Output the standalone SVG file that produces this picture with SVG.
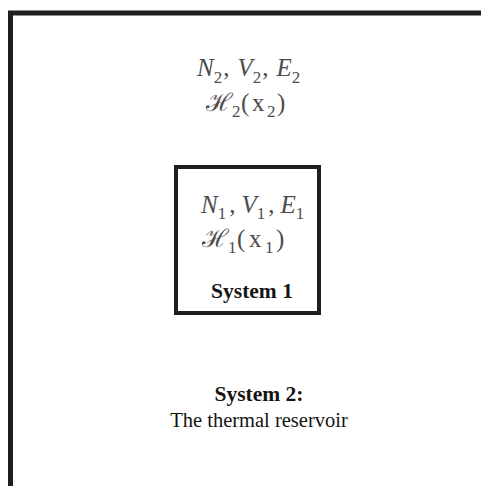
<svg xmlns="http://www.w3.org/2000/svg" width="481" height="486" viewBox="0 0 481 486">
<style>
text{font-family:"Liberation Serif",serif;}
.m{font-style:italic;font-size:25px;fill:#4d4d4d}
.s{font-size:17px;fill:#4d4d4d;font-style:normal}
.u{font-size:25px;fill:#4d4d4d;font-style:normal}
.b{font-weight:bold;font-size:21.5px;fill:#141414}
.t{font-size:20.5px;fill:#141414}
</style>
<rect width="481" height="486" fill="#fff"/>
<g id="system2">
<path d="M10.5,490 V13 H490" fill="none" stroke="#1e1e1e" stroke-width="5"/>
<text class="m" x="197" y="76">N<tspan class="s" dy="7">2</tspan><tspan class="u" dy="-7" dx="1">,</tspan><tspan dx="8">V</tspan><tspan class="s" dy="7">2</tspan><tspan class="u" dy="-7" dx="1">,</tspan><tspan dx="8">E</tspan><tspan class="s" dy="7">2</tspan></text>
<text class="u" x="206" y="111">ℋ</text><text class="s" x="232" y="117">2</text><text class="u" x="241" y="111">(</text>
<text class="u" x="252" y="111">x</text><text class="s" x="267" y="117">2</text><text class="u" x="277" y="111">)</text>
<text class="b" x="259" y="401" text-anchor="middle">System 2:</text>
<text class="t" x="259" y="427" text-anchor="middle">The thermal reservoir</text>
</g>
<g id="system1">
<rect x="176" y="167" width="143" height="146" fill="none" stroke="#1e1e1e" stroke-width="4"/>
<text class="m" x="201" y="213">N<tspan class="s" dy="6">1</tspan><tspan class="u" dy="-6" dx="3">,</tspan><tspan dx="6">V</tspan><tspan class="s" dy="6">1</tspan><tspan class="u" dy="-6" dx="3">,</tspan><tspan dx="6">E</tspan><tspan class="s" dy="6">1</tspan></text>
<text class="u" x="202" y="247">ℋ</text><text class="s" x="228" y="253">1</text><text class="u" x="237" y="247">(</text>
<text class="u" x="249" y="247">x</text><text class="s" x="265" y="253">1</text><text class="u" x="276" y="247">)</text>
<text class="b" x="252" y="298" text-anchor="middle">System 1</text>
</g>
<g id="connectors"/>
</svg>
